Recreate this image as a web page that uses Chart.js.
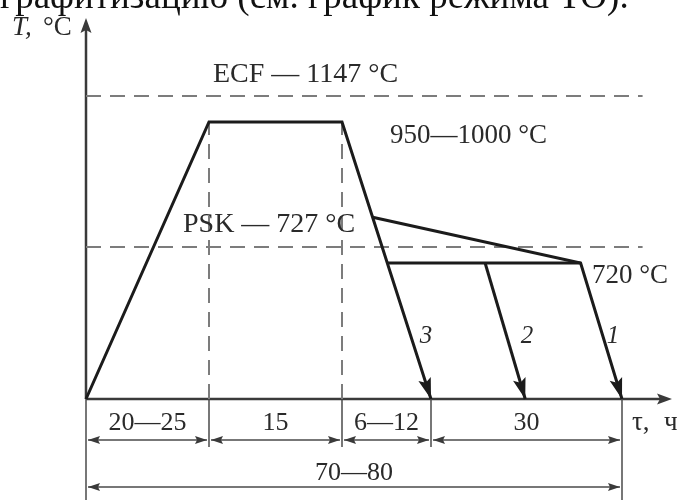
<!DOCTYPE html>
<html>
<head>
<meta charset="utf-8">
<script src="https://cdn.jsdelivr.net/npm/chart.js@4"></script>
<style>
  html, body { margin: 0; padding: 0; background: #fff; }
  #wrap { width: 678px; height: 500px; position: relative; }
</style>
</head>
<body>
<div id="wrap"><canvas id="chart" width="678" height="500"></canvas></div>
<script>
// Stage boundaries on the time axis, h (nominal mid values of each range)
const stageTimes = [0, 22.5, 37.5, 46.5, 76.5];
const stageLabels = ['20—25', '15', '6—12', '30'];
const totalLabel = '70—80';

// Characteristic temperatures, °C
const ecfTemp = 1147;
const pskTemp = 727;
const soakTemp = 975;   // 950—1000 °C
const holdTemp = 720;

// Process paths as [time, temperature]
const path3 = [[0, 0], [22.5, soakTemp], [37.5, soakTemp], [46.5, 0]];
const path1 = [[40.6, 786], [70, holdTemp], [76.5, 0]];
const hold720 = [[42.1, holdTemp], [70, holdTemp]];
const path2 = [[55, holdTemp], [61.3, 0]];

// Guide lines
const ecfLine = [[0, ecfTemp], [80, ecfTemp]];
const pskLine = [[0, pskTemp], [80, pskTemp]];
const soakStart = [[22.5, 0], [22.5, soakTemp]];
const soakEnd = [[37.5, 0], [37.5, soakTemp]];

const curveNames = ['3', '2', '1'];

// The diagram is schematic: each axis is piecewise linear between knots
// (value -> relative length along the axis).
const AXIS_KNOTS = {
  x: { values: [0, 22.5, 37.5, 46.5, 76.5, 85], share: [0, 123, 256, 345, 536, 586] },
  y: { values: [0, 720, 727, 975, 1147, 1400], share: [0, 136, 152, 277, 303, 381] }
};

class SchematicScale extends Chart.LinearScale {
  static id = 'schematic';
  static defaults = Chart.LinearScale.defaults;
  getPixelForValue(value) {
    const { values, share } = AXIS_KNOTS[this.id];
    const n = values.length, total = share[n - 1];
    let i = 1;
    while (i < n - 1 && value > values[i]) i++;
    const t = (value - values[i - 1]) / (values[i] - values[i - 1]);
    const s = share[i - 1] + t * (share[i] - share[i - 1]);
    return this.getPixelForDecimal(s / total);
  }
  getValueForPixel(pixel) {
    const { values, share } = AXIS_KNOTS[this.id];
    const n = values.length, total = share[n - 1];
    const s = this.getDecimalForPixel(pixel) * total;
    let i = 1;
    while (i < n - 1 && s > share[i]) i++;
    const t = (s - share[i - 1]) / (share[i] - share[i - 1]);
    return values[i - 1] + t * (values[i] - values[i - 1]);
  }
}
Chart.register(SchematicScale);

const toXY = arr => arr.map(([x, y]) => ({ x, y }));

const INK = '#1b1b1b';
const AXIS = '#3a3a3a';
const GUIDE = '#7c7c7c';
const TEXT = '#2a2a2a';
const SERIF = '"Liberation Serif", "DejaVu Serif", serif';

function processSet(data, arrow) {
  return {
    data: toXY(data), showLine: true, borderColor: INK, borderWidth: 3,
    pointRadius: 0, tension: 0, borderJoinStyle: 'miter', borderCapStyle: 'butt',
    arrowEnd: arrow, order: 0, clip: false
  };
}
function guideSet(data) {
  return {
    data: toXY(data), showLine: true, borderColor: GUIDE, borderWidth: 2,
    borderDash: [15, 9], pointRadius: 0, tension: 0, order: 5, clip: false
  };
}

function arrowHead(ctx, x0, y0, x1, y1, len, half, notch) {
  const a = Math.atan2(y1 - y0, x1 - x0);
  const c = Math.cos(a), s = Math.sin(a);
  ctx.beginPath();
  ctx.moveTo(x1, y1);
  ctx.lineTo(x1 - len * c - half * s, y1 - len * s + half * c);
  ctx.lineTo(x1 - (len - notch) * c, y1 - (len - notch) * s);
  ctx.lineTo(x1 - len * c + half * s, y1 - len * s - half * c);
  ctx.closePath();
  ctx.fill();
}

function dimArrow(ctx, xa, xb, y) {
  ctx.beginPath();
  ctx.moveTo(xa + 2, y);
  ctx.lineTo(xb - 2, y);
  ctx.stroke();
  arrowHead(ctx, xb, y, xa + 2, y, 12, 4, 2);
  arrowHead(ctx, xa, y, xb - 2, y, 12, 4, 2);
}

const decorations = {
  id: 'decorations',
  beforeDatasetsDraw(chart) {
    const { ctx, scales: { x, y } } = chart;
    const x0 = x.getPixelForValue(0), y0 = y.getPixelForValue(0);
    ctx.save();
    ctx.strokeStyle = AXIS;
    ctx.fillStyle = AXIS;
    ctx.lineWidth = 2.5;
    // temperature axis
    ctx.beginPath();
    ctx.moveTo(x0, y0);
    ctx.lineTo(x0, y.top + 6);
    ctx.stroke();
    arrowHead(ctx, x0, y0, x0, y.top, 15, 5.5, 3);
    // time axis
    ctx.beginPath();
    ctx.moveTo(x0, y0);
    ctx.lineTo(x.right - 6, y0);
    ctx.stroke();
    arrowHead(ctx, x0, y0, x.right, y0, 15, 5.5, 3);
    ctx.restore();
  },
  afterDatasetsDraw(chart) {
    const { ctx, scales: { x, y } } = chart;
    const y0 = y.getPixelForValue(0);
    ctx.save();

    // arrow heads at the ends of the cooling paths
    ctx.fillStyle = INK;
    chart.data.datasets.forEach((ds, i) => {
      if (!ds.arrowEnd) return;
      const pts = chart.getDatasetMeta(i).data;
      const a = pts[pts.length - 2], b = pts[pts.length - 1];
      arrowHead(ctx, a.x, a.y, b.x, b.y, 21, 6.5, 4);
    });

    // stage dimensions below the time axis
    ctx.strokeStyle = '#4a4a4a';
    ctx.fillStyle = '#3a3a3a';
    ctx.lineWidth = 1.5;
    const px = stageTimes.map(t => x.getPixelForValue(t));
    px.forEach((p, i) => {
      const last = i === 0 || i === px.length - 1;
      ctx.beginPath();
      ctx.moveTo(p, y0);
      ctx.lineTo(p, last ? chart.height : y0 + 48);
      ctx.stroke();
    });
    for (let i = 0; i < stageLabels.length; i++) dimArrow(ctx, px[i], px[i + 1], y0 + 41);
    dimArrow(ctx, px[0], px[px.length - 1], y0 + 88);

    ctx.fillStyle = TEXT;
    ctx.textBaseline = 'alphabetic';
    ctx.textAlign = 'center';
    ctx.font = '26px ' + SERIF;
    stageLabels.forEach((lab, i) => ctx.fillText(lab, (px[i] + px[i + 1]) / 2, y0 + 31));
    ctx.fillText(totalLabel, (px[0] + px[px.length - 1]) / 2, y0 + 81);

    // labels of the temperature levels
    ctx.textAlign = 'left';
    ctx.font = '28px ' + SERIF;
    ctx.fillText('ECF — 1147 °C', 213, y.getPixelForValue(ecfTemp) - 14);
    ctx.fillText('PSK — 727 °C', 183, y.getPixelForValue(pskTemp) - 15);
    ctx.font = '27px ' + SERIF;
    ctx.fillText('950—1000 °C', 390, y.getPixelForValue(soakTemp) + 21);
    ctx.fillText('720 °C', 592, y.getPixelForValue(holdTemp) + 20);

    // curve numbers
    ctx.font = 'italic 25px ' + SERIF;
    ctx.textAlign = 'center';
    const numPos = [[426, 343], [527, 343], [613, 343]];
    curveNames.forEach((n, i) => ctx.fillText(n, numPos[i][0], numPos[i][1]));

    // axis titles
    ctx.textAlign = 'left';
    ctx.font = 'italic 27px ' + SERIF;
    ctx.fillText('T,', 12, 35);
    ctx.font = '27px ' + SERIF;
    ctx.fillText('°C', 43, 35);
    ctx.fillText('τ,', 632, y0 + 31);
    ctx.fillText('ч', 664, y0 + 31);

    // running text line above the diagram
    ctx.font = '37px ' + SERIF;
    ctx.fillStyle = '#111';
    ctx.fillText('графитизацию (см. график режима ТО).', 0, 8);
    ctx.restore();
  }
};

new Chart(document.getElementById('chart'), {
  type: 'scatter',
  data: {
    datasets: [
      processSet(path3, true),
      processSet(path1, true),
      processSet(hold720, false),
      processSet(path2, true),
      guideSet(ecfLine),
      guideSet(pskLine),
      guideSet(soakStart),
      guideSet(soakEnd)
    ]
  },
  options: {
    responsive: false,
    animation: false,
    layout: { padding: { left: 86, right: 6, top: 18, bottom: 101 } },
    scales: {
      x: { type: 'schematic', min: 0, max: 85, display: false },
      y: { type: 'schematic', min: 0, max: 1400, display: false }
    },
    plugins: { legend: { display: false }, tooltip: { enabled: false }, title: { display: false } }
  },
  plugins: [decorations]
});
</script>
</body>
</html>
